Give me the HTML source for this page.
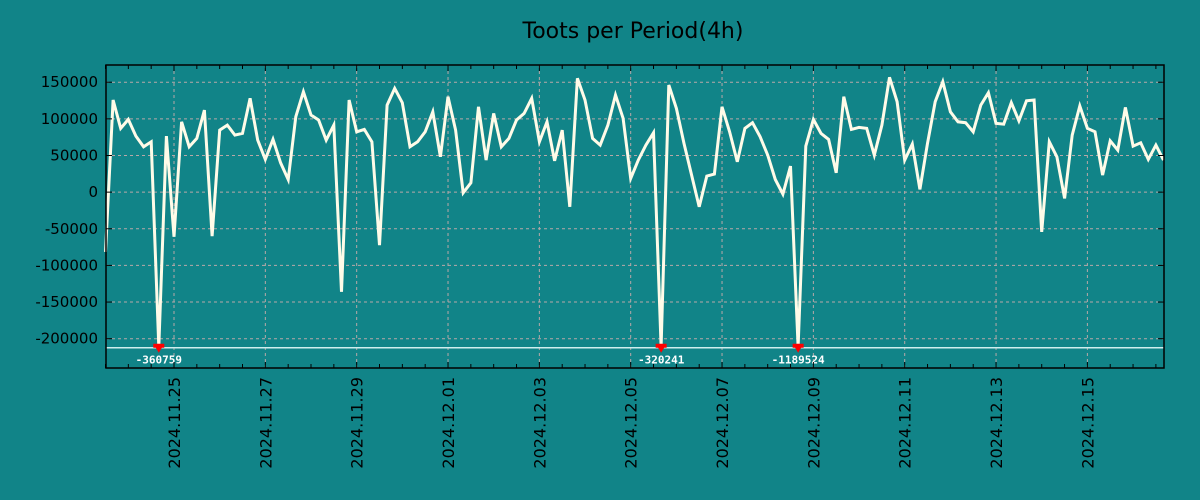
<!DOCTYPE html>
<html><head><meta charset="utf-8"><style>
html,body{margin:0;padding:0;background:#118488;}
svg{display:block;font-family:"DejaVu Sans","Liberation Sans",sans-serif;}
</style></head><body>
<svg id="chart" width="1200" height="500" viewBox="0 0 1200 500" xmlns="http://www.w3.org/2000/svg">
<rect width="1200" height="500" fill="#118488"/>
<text x="633" y="38" text-anchor="middle" font-size="22" fill="#000">Toots per Period(4h)</text>
<g id="grid"></g>
<g id="series"></g>
<g id="axes"></g>
</svg>
<script>
const values = [-81600,125700,87000,99300,76500,61900,68700,-360759,76500,-61000,96000,61900,73300,112000,-60000,84700,91500,77900,80200,128000,71000,44700,72000,40000,17300,102900,137000,105200,98400,71000,91500,-136000,125700,82400,85600,68700,-72400,118800,141600,
122000,61900,68700,82400,109700,48200,130200,84700,-900,12700,116500,43700,107500,61900,73300,98400,107500,128000,68700,96000,42800,84700,-20000,155300,125700,73300,64200,91500,132500,100700,18700,43700,64200,81000,-320241,146200,114300,66500,
23200,-20000,21900,24600,116500,82400,41400,87000,94700,75600,50500,17300,-2700,35500,-1189524,62800,99300,80200,72000,26400,130200,85600,88400,87000,50500,91500,156700,123400,43700,65600,3700,
66500,123400,150700,109700,96000,94700,82400,118800,135700,93800,92900,122000,97400,124700,125700,-54200,68700,48200,-8600,77900,117500,87000,82400,23200,70100,57400,115700,62800,67300,44700,64200,43700];
const yTicks = [150000,100000,50000,0,-50000,-100000,-150000,-200000];
const dateLabels = ["2024.11.25","2024.11.27","2024.11.29","2024.12.01","2024.12.03","2024.12.05","2024.12.07","2024.12.09","2024.12.11","2024.12.13","2024.12.15"];
const firstDateIndex = 9;   // index of first labelled date (periods of 4h)
const clipValue = -211000;

const L=106,R=1164,T=65,B=368;
const yMin=-240000,yMax=173500;
const xMax=values.length-1;
const X=i=>L+(i/xMax)*(R-L)-0.5;
const Y=v=>B-(v-yMin)/(yMax-yMin)*(B-T);
const NS="http://www.w3.org/2000/svg";
function mk(tag,attrs,parent){const e=document.createElementNS(NS,tag);for(const k in attrs)e.setAttribute(k,attrs[k]);parent.appendChild(e);return e;}
const grid=document.getElementById('grid'),axes=document.getElementById('axes'),series=document.getElementById('series');

yTicks.forEach(v=>{
  const g=mk('line',{x1:L,x2:R,y1:Y(v),y2:Y(v),stroke:'#b8a8a8','stroke-width':1,'stroke-dasharray':'3,3'},grid);
  
  
  const t=mk('text',{x:L-8,y:Y(v)+5,'text-anchor':'end','font-size':15,fill:'#000'},axes);
  t.textContent=v;
  
  
  mk('line',{x1:L,x2:L+6,y1:Y(v),y2:Y(v),stroke:'#000'},axes);
  mk('line',{x1:R,x2:R-6,y1:Y(v),y2:Y(v),stroke:'#000'},axes);
});
dateLabels.forEach((d,k)=>{
  const x=X(firstDateIndex+k*12);
  const g=mk('line',{x1:x,x2:x,y1:T,y2:B,stroke:'#b8a8a8','stroke-width':1,'stroke-dasharray':'3,3'},grid);
  
  
  const t=mk('text',{x:0,y:0,'text-anchor':'end','font-size':16,fill:'#000',transform:`translate(${x+6},${B+9}) rotate(-90)`},axes);
  t.textContent=d;
  
  
});
for(let i=firstDateIndex%3;i<=xMax;i+=3){
  const x=X(i);const len=((i-firstDateIndex)%12===0)?6:4;
  mk('line',{x1:x,x2:x,y1:B,y2:B-len,stroke:'#000'},axes);
  mk('line',{x1:x,x2:x,y1:T,y2:T+len,stroke:'#000'},axes);
}
const fr=mk('rect',{x:L,y:T,width:R-L,height:B-T,fill:'none',stroke:'#000','stroke-width':1.5},axes);



const cl=mk('line',{x1:L,x2:R,y1:Y(clipValue)+1,y2:Y(clipValue)+1,stroke:'#cfeeee','stroke-width':1.5},series);


const pts=values.map((v,i)=>`${X(i).toFixed(1)},${Y(Math.max(v,clipValue)).toFixed(1)}`).join(' ');
const pl=mk('polyline',{points:pts,fill:'none',stroke:'#fffbe8','stroke-width':3,'stroke-linejoin':'miter'},series);


values.forEach((v,i)=>{
  if(v>=clipValue)return;
  const x=X(i),y=Y(clipValue)+1;
  const m=mk('polygon',{points:`${x-5.5},${y-4} ${x+5.5},${y-4} ${x+5.5},${y} ${x+3},${y} ${x},${y+5} ${x-3},${y} ${x-5.5},${y}`,fill:'#ff0000'},series);
  
  
  const t=mk('text',{x:x,y:y+16,'text-anchor':'middle','font-size':11,'font-weight':'bold',fill:'#fff','font-family':'"DejaVu Sans Mono","Liberation Mono",monospace'},series);
  t.textContent=v;
  
  
});
</script>
</body></html>
